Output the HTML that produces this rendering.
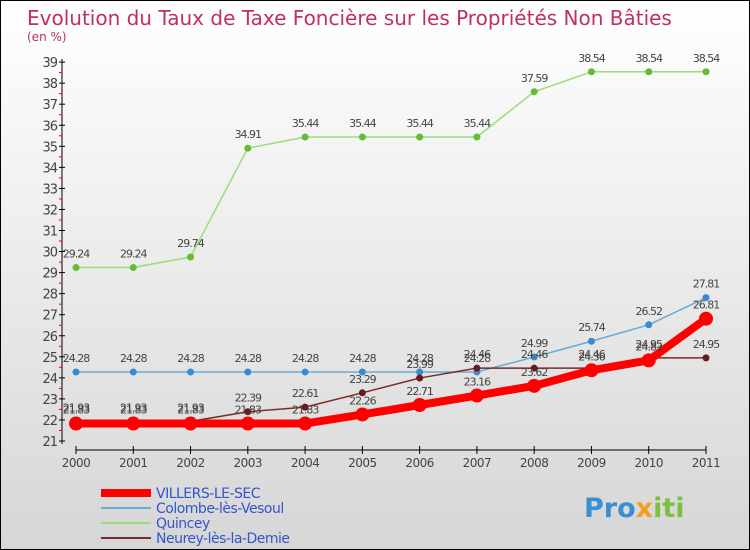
<!DOCTYPE html>
<html><head><meta charset="utf-8"><style>
body{margin:0}
#wrap{width:748px;height:548px;border:1px solid #000;background:linear-gradient(#ffffff,#d6d6d6);position:relative;overflow:hidden;font-family:"DejaVu Sans","Liberation Sans",sans-serif}
</style></head><body>
<div id="wrap">
<svg id="chart" width="748" height="548">
<text x="26" y="24" font-size="20" fill="#c0305a">Evolution du Taux de Taxe Foncière sur les Propriétés Non Bâties</text>
<text x="26" y="40" font-size="12" fill="#c0305a">(en %)</text>
<g id="axes"></g><g id="series"></g>
<g id="legend"></g>
<text x="583" y="516" font-size="27" font-weight="bold" fill="#3a8fd0">Pro<tspan fill="#f0a020">x</tspan><tspan fill="#7cc040">iti</tspan></text>
</svg>
</div>
<script>
const years=["2000","2001","2002","2003","2004","2005","2006","2007","2008","2009","2010","2011"];
const villers=[21.83,21.83,21.83,21.83,21.83,22.26,22.71,23.16,23.62,24.36,24.83,26.81];
const colombe=[24.28,24.28,24.28,24.28,24.28,24.28,24.28,24.28,24.99,25.74,26.52,27.81];
const quincey=[29.24,29.24,29.74,34.91,35.44,35.44,35.44,35.44,37.59,38.54,38.54,38.54];
const neurey=[21.93,21.93,21.93,22.39,22.61,23.29,23.99,24.46,24.46,24.46,24.95,24.95];
const yTicks=[21,22,23,24,25,26,27,28,29,30,31,32,33,34,35,36,37,38,39];
const NS="http://www.w3.org/2000/svg";
const X=i=>75+i*(630/11), Y=v=>440-(v-21)*21.05;
function mk(t,a,p){const e=document.createElementNS(NS,t);for(const k in a)e.setAttribute(k,a[k]);p.appendChild(e);return e;}
const ax=document.getElementById('axes');
let l=mk('line',{x1:61,y1:58,x2:61,y2:443,stroke:'#000'},ax);

l=mk('line',{x1:75,y1:449,x2:705,y2:449,stroke:'#000'},ax);

yTicks.forEach(v=>{
 mk('line',{x1:58,y1:Y(v),x2:64,y2:Y(v),stroke:'#000'},ax);
 if(v<39)mk('line',{x1:58,y1:Y(v+0.5),x2:61,y2:Y(v+0.5),stroke:'#e00'},ax);
 const t=mk('text',{x:56,y:Y(v)+5,'font-size':13,fill:'#444','text-anchor':'end','letter-spacing':'-1'},ax);t.textContent=v;
 
});
years.forEach((y,i)=>{
 mk('line',{x1:X(i),y1:445,x2:X(i),y2:453,stroke:'#000'},ax);
 const t=mk('text',{x:X(i),y:466,'font-size':12,fill:'#444','text-anchor':'middle','letter-spacing':'-0.5'},ax);t.textContent=y;
 
});
const sg=document.getElementById('series');
const series=[
 {name:'quincey',data:quincey,color:'#99dd77',dot:'#66bb33',w:1.5,r:3.5},
 {name:'colombe',data:colombe,color:'#6aaad8',dot:'#3a8ad0',w:1.5,r:3.5},
 {name:'neurey',data:neurey,color:'#7a2a2a',dot:'#6a1a1a',w:1.5,r:3.5},
 {name:'villers',data:villers,color:'#ff0000',dot:'#ff0000',w:8,r:7}
];
series.forEach(s=>{
 const p=mk('polyline',{points:s.data.map((v,i)=>X(i)+','+Y(v)).join(' '),fill:'none',stroke:s.color,'stroke-width':s.w,'stroke-linejoin':'round'},sg);
 
 s.data.forEach((v,i)=>{
  const c=mk('circle',{cx:X(i),cy:Y(v),r:s.r,fill:s.dot},sg);
  
  const t=mk('text',{x:X(i),y:Y(v)-10,'font-size':11,fill:'#444','text-anchor':'middle','letter-spacing':'-1'},sg);t.textContent=v.toFixed(2);
  
 });
});
const lg=document.getElementById('legend');
[['VILLERS-LE-SEC','#ff0000',8],['Colombe-lès-Vesoul','#6aaad8',2],['Quincey','#99dd77',2],['Neurey-lès-la-Demie','#7a2a2a',2]].forEach((e,i)=>{
 const y=492+i*15;
 mk('line',{x1:100,y1:y,x2:150,y2:y,stroke:e[1],'stroke-width':e[2]},lg);
 const t=mk('text',{x:155,y:y+5,'font-size':14,fill:'#3355cc','letter-spacing':'-0.5'},lg);t.textContent=e[0];
 
});
</script>
</body></html>
